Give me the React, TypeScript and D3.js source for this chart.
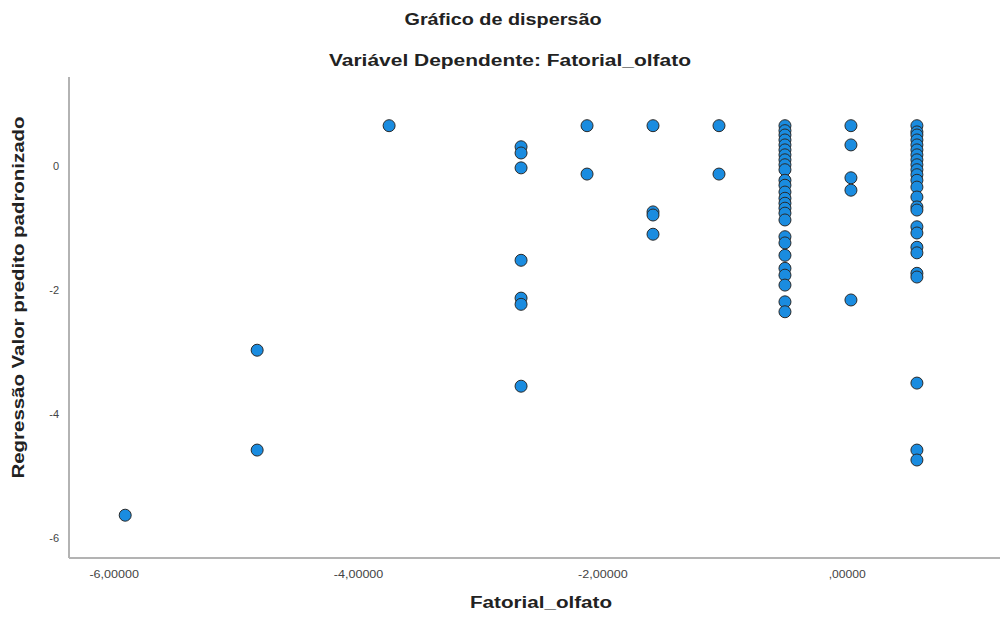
import React from "react";
import * as d3 from "d3";

// ---- Data ----
const columnX = [-5.91, -4.83, -3.75, -2.67, -2.13, -1.59, -1.05, -0.51, 0.03, 0.57];

const yAtM591 = [-5.63];
const yAtM483 = [-2.97, -4.58];
const yAtM375 = [0.65];
const yAtM267 = [0.31, 0.21, -0.03, -1.52, -2.13, -2.23, -3.55];
const yAtM213 = [0.65, -0.13];
const yAtM159 = [0.65, -0.74, -0.79, -1.1];
const yAtM105 = [0.65, -0.13];
const yAtM051 = [
  0.65, 0.57, 0.5, 0.42, 0.34, 0.26, 0.18, 0.1, 0.02, -0.06, -0.23, -0.31, -0.42,
  -0.52, -0.6, -0.68, -0.76, -0.87, -1.14, -1.24, -1.44, -1.65, -1.76, -1.92, -2.19, -2.35,
];
const yAtP003 = [0.65, 0.34, -0.19, -0.39, -2.16];
const yAtP057 = [
  0.65, 0.55, 0.5, 0.42, 0.34, 0.26, 0.18, 0.1, 0.02, -0.06, -0.14, -0.23, -0.34,
  -0.5, -0.66, -0.71, -0.98, -1.08, -1.31, -1.4, -1.73, -1.79, -3.5, -4.58, -4.74,
];
const columnY = [yAtM591, yAtM483, yAtM375, yAtM267, yAtM213, yAtM159, yAtM105, yAtM051, yAtP003, yAtP057];

const xTicks = [-6, -4, -2, 0];
const xTickLabels = ["-6,00000", "-4,00000", "-2,00000", ",00000"];
const yTicks = [0, -2, -4, -6];
const yTickLabels = ["0", "-2", "-4", "-6"];

const TITLE = "Gráfico de dispersão";
const SUBTITLE = "Variável Dependente: Fatorial_olfato";
const X_TITLE = "Fatorial_olfato";
const Y_TITLE = "Regressão Valor predito padronizado";

// ---- Layout ----
const W = 1005;
const H = 624;
const left = 69;
const right = 1000;
const top = 77;
const bottom = 558;
const FONT = "'Liberation Sans', Arial, sans-serif";

export default function App() {
  const x = d3.scaleLinear().domain([-6.37, 1.25]).range([left, right]);
  const y = d3.scaleLinear().domain([-6.32, 1.435]).range([bottom, top]);

  const points = columnX.flatMap((cx, i) => columnY[i].map((vy) => ({ x: cx, y: vy })));

  return (
    <svg
      width={W}
      height={H}
      style={{ position: "absolute", left: 0, top: 0, background: "#fff" }}
      fontFamily={FONT}
    >
      <rect width={W} height={H} fill="#fff" />
      <text x={503} y={25} textAnchor="middle" fontSize={16} fontWeight="bold" fill="#222"
        textLength={197} lengthAdjust="spacingAndGlyphs">
        {TITLE}
      </text>
      <text x={510} y={66} textAnchor="middle" fontSize={16} fontWeight="bold" fill="#222"
        textLength={362} lengthAdjust="spacingAndGlyphs">
        {SUBTITLE}
      </text>

      {/* axes */}
      <line x1={left} x2={left} y1={top} y2={bottom} stroke="#b3b3b3" strokeWidth={2} />
      <line x1={left} x2={right} y1={bottom} y2={bottom} stroke="#b3b3b3" strokeWidth={2} />

      {yTicks.map((t, i) => (
        <text key={"yt" + i} x={59} y={y(t) + 4} textAnchor="end" fontSize={11} fill="#444">
          {yTickLabels[i]}
        </text>
      ))}
      {xTicks.map((t, i) => (
        <text key={"xt" + i} x={x(t)} y={578} textAnchor="middle" fontSize={11} fill="#444"
          textLength={xTickLabels[i].length * 6.2} lengthAdjust="spacingAndGlyphs">
          {xTickLabels[i]}
        </text>
      ))}

      <text x={541} y={608} textAnchor="middle" fontSize={16} fontWeight="bold" fill="#222"
        textLength={142} lengthAdjust="spacingAndGlyphs">
        {X_TITLE}
      </text>
      <text
        transform={`translate(24, ${(top + bottom) / 2 - 20}) rotate(-90)`}
        textAnchor="middle"
        fontSize={16}
        fontWeight="bold"
        fill="#222"
        textLength={362}
        lengthAdjust="spacingAndGlyphs"
      >
        {Y_TITLE}
      </text>

      {points.map((p, i) => (
        <circle key={i} cx={x(p.x)} cy={y(p.y)} r={6} fill="#1a8ce0" stroke="#2a2a2a" strokeWidth={1} />
      ))}
    </svg>
  );
}
